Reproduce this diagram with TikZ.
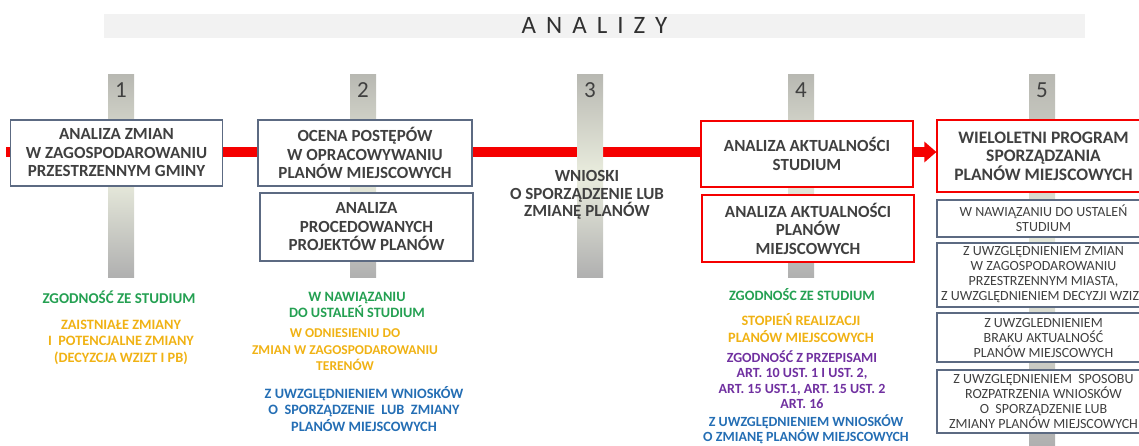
\documentclass[tikz,border=0pt]{standalone}
\usepackage{fontspec}
\setmainfont{Carlito}
\newfontfamily\titlefont[LetterSpace=40]{Carlito}
\usetikzlibrary{arrows.meta,backgrounds}
\definecolor{analizared}{RGB}{245,0,0}
\definecolor{analizaframe}{RGB}{92,106,130}
\definecolor{analizatext}{RGB}{64,64,64}
\definecolor{analizatitle}{RGB}{48,48,48}
\definecolor{analizaband}{RGB}{242,242,242}
\definecolor{analizagreen}{RGB}{36,160,82}
\definecolor{analizagold}{RGB}{240,178,20}
\definecolor{analizapurple}{RGB}{112,48,160}
\definecolor{analizablue}{RGB}{36,110,180}
\definecolor{posttop}{RGB}{184,184,178}
\definecolor{postmid}{RGB}{234,237,222}
\definecolor{postbot}{RGB}{176,176,176}

\begin{document}
\begin{tikzpicture}[x=1pt,y=-1pt,>=Stealth,
 stage/.style={draw=analizaframe,line width=1.2pt,fill=white,align=center,inner sep=0pt,
  text=analizatext,font=\bfseries\fontsize{17}{18.5}\selectfont,minimum width=212pt},
 redstage/.style={stage,draw=analizared},
 substage/.style={stage,font=\fontsize{14}{15}\selectfont,minimum width=213pt},
 note/.style={align=center,inner sep=0pt,font=\bfseries\fontsize{14.3}{16.5}\selectfont}]
\clip (0,0) rectangle (1139,445);
\node[fill=analizaband,minimum width=981pt,minimum height=24pt,inner sep=0pt,
 text=analizatitle,font=\titlefont\fontsize{25}{25}\selectfont] (title) at (594.5,25.5) {ANALIZY};
% stage boxes
\node[stage,minimum height=66pt] (zmiany) at (116.5,153)
 {ANALIZA ZMIAN\\W ZAGOSPODAROWANIU\\PRZESTRZENNYM GMINY};
\node[stage,minimum height=66pt,minimum width=214pt] (ocena) at (365,153)
 {OCENA POSTĘPÓW\\W OPRACOWYWANIU\\PLANÓW MIEJSCOWYCH};
\node[stage,minimum height=68pt,minimum width=213pt] (projekty) at (366.5,227)
 {ANALIZA\\PROCEDOWANYCH\\PROJEKTÓW PLANÓW};
\node[note,text=analizatext,font=\bfseries\fontsize{17}{17.5}\selectfont] (wnioski) at (587,195)
 {WNIOSKI\\O SPORZĄDZENIE LUB\\ZMIANĘ PLANÓW};
\node[redstage,minimum height=66pt] (studium) at (807,154)
 {ANALIZA AKTUALNOŚCI\\STUDIUM};
\node[redstage,minimum height=67pt] (plany) at (808,228.5)
 {ANALIZA AKTUALNOŚCI\\PLANÓW\\MIEJSCOWYCH};
\node[redstage,minimum height=72pt,minimum width=213pt,font=\bfseries\fontsize{17.5}{18.5}\selectfont] (program) at (1043.5,156)
 {WIELOLETNI PROGRAM\\SPORZĄDZANIA\\PLANÓW MIEJSCOWYCH};
\node[substage,minimum height=37pt] (ustalen) at (1043.5,218.5)
 {W NAWIĄZANIU DO USTALEŃ\\STUDIUM};
\node[substage,minimum height=64pt] (miasto) at (1043.5,275)
 {Z UWZGLĘDNIENIEM ZMIAN\\W ZAGOSPODAROWANIU\\PRZESTRZENNYM MIASTA,\\Z UWZGLĘDNIENIEM DECYZJI WZIZT};
\node[substage,minimum height=49pt] (brak) at (1043.5,337.5)
 {Z UWZGLEDNIENIEM\\BRAKU AKTUALNOŚĆ\\PLANÓW MIEJSCOWYCH};
\node[substage,minimum height=63pt] (sposob) at (1043.5,401.5)
 {Z UWZGLĘDNIENIEM\ \ SPOSOBU\\ROZPATRZENIA WNIOSKÓW\\O\ \ SPORZĄDZENIE LUB\\ZMIANY PLANÓW MIEJSCOWYCH};
% notes under the posts
\node[note,text=analizagreen,font=\bfseries\fontsize{15}{16.5}\selectfont] (zgodnosc1) at (119,297) {ZGODNOŚĆ ZE STUDIUM};
\node[note,text=analizagold] (potencjalne) at (121,342)
 {ZAISTNIAŁE ZMIANY\\I\ \ POTENCJALNE ZMIANY\\(DECYZCJA WZIZT I PB)};
\node[note,text=analizagreen] (nawiazanie) at (357,305) {W NAWIĄZANIU\\DO USTALEŃ STUDIUM};
\node[note,text=analizagold,font=\bfseries\fontsize{13.5}{16.5}\selectfont] (odniesienie) at (345,350)
 {W ODNIESIENIU DO\\ZMIAN W ZAGOSPODAROWANIU\\TERENÓW};
\node[note,text=analizablue] (wnioski2) at (364,409)
 {Z UWZGLĘDNIENIEM WNIOSKÓW\\O\ \ SPORZĄDZENIE\ \ LUB\ \ ZMIANY\\PLANÓW MIEJSCOWYCH};
\node[note,text=analizagreen] (zgodnosc4) at (802,295) {ZGODNOŚC ZE STUDIUM};
\node[note,text=analizagold] (stopien) at (801,328) {STOPIEŃ REALIZACJI\\PLANÓW MIEJSCOWYCH};
\node[note,text=analizapurple,font=\bfseries\fontsize{14}{15.5}\selectfont] (przepisy) at (802,379.5)
 {ZGODNOŚĆ Z PRZEPISAMI\\ART. 10 UST. 1 I UST. 2,\\ART. 15 UST.1, ART. 15 UST. 2\\ART. 16};
\node[note,text=analizablue,font=\bfseries\fontsize{14}{15}\selectfont] (wnioski4) at (806,429)
 {Z UWZGLĘDNIENIEM WNIOSKÓW\\O ZMIANĘ PLANÓW MIEJSCOWYCH};
\begin{pgfonlayer}{background}
\coordinate (start) at (6,152);
\draw[analizared,line width=10pt,-{Triangle[length=12pt,width=20pt]}]
 (start) -- (start -| program.west);
\foreach \px/\pbot [count=\i] in {121/277,363/277,590/277,801/277,1042/445}{
 \shade[top color=posttop,bottom color=postbot,middle color=postmid]
  (\px-13,74) rectangle (\px+13,\pbot);
 \node[text=analizatext,font=\fontsize{23}{23}\selectfont] (num\i) at (\px,90) {\i};}
\end{pgfonlayer}
\end{tikzpicture}
\end{document}
